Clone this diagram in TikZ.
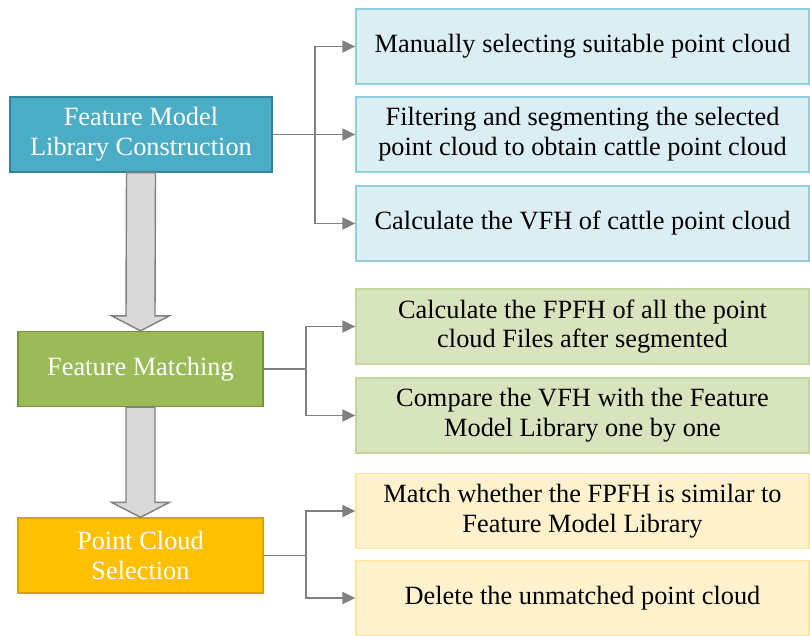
\documentclass[tikz,border=0pt]{standalone}
\usepackage{fontspec}
\setmainfont{Liberation Serif}
\usepackage{tikz}
\usetikzlibrary{arrows.meta, calc}

\definecolor{blueMain}{HTML}{4BACC6}
\definecolor{blueEdge}{HTML}{31849B}
\definecolor{blueSub}{HTML}{DAEEF3}
\definecolor{blueSubEdge}{HTML}{92CDDC}
\definecolor{greenMain}{HTML}{9BBB59}
\definecolor{greenEdge}{HTML}{76923C}
\definecolor{greenSub}{HTML}{D7E4BD}
\definecolor{greenSubEdge}{HTML}{C3D69B}
\definecolor{goldMain}{HTML}{FFC000}
\definecolor{goldEdge}{HTML}{D6A300}
\definecolor{goldSub}{HTML}{FFF2CC}
\definecolor{goldSubEdge}{HTML}{FFE699}
\definecolor{linkGray}{HTML}{808080}
\definecolor{arrowFill}{HTML}{D9D9D9}

\tikzset{
  mainbox/.style={draw, line width=0.8pt, text=white, align=center,
    minimum width=4.9cm, minimum height=1.5cm, inner sep=0pt,
    font=\fontsize{15}{17}\selectfont},
  subbox/.style={draw, line width=0.8pt, align=center,
    minimum width=9.06cm, minimum height=1.5cm, inner sep=0pt,
    font=\fontsize{15}{17}\selectfont},
  link/.style={draw=linkGray, line width=1pt},
  linkarrow/.style={link, -{Triangle[length=2.6mm, width=2.4mm]}},
  bigarrow/.style={draw=linkGray, fill=arrowFill, line width=0.8pt}
}

\newcommand{\blockarrow}[2]{%
  \draw[bigarrow] ([xshift=-2.9mm]#1.south) -- ([xshift=-2.9mm, yshift=3mm]#2.north)
    -- ([xshift=-5.8mm, yshift=3mm]#2.north) -- (#2.north)
    -- ([xshift=5.8mm, yshift=3mm]#2.north) -- ([xshift=2.9mm, yshift=3mm]#2.north)
    -- ([xshift=2.9mm]#1.south) -- cycle;}

\begin{document}
\begin{tikzpicture}[x=0.02cm, y=-0.02cm]
\useasboundingbox (0,0) rectangle (810,635);

% main steps
\node[mainbox, fill=blueMain, draw=blueEdge, minimum width=5.24cm] (lib) at (141,134.5) {Feature Model\\Library Construction};
\node[mainbox, fill=greenMain, draw=greenEdge] (match) at (140.5,369) {Feature Matching};
\node[mainbox, fill=goldMain, draw=goldEdge] (sel) at (140.5,555.5) {Point Cloud\\Selection};

% sub steps
\node[subbox, fill=blueSub, draw=blueSubEdge] (lib1) at (582.5,46.5) {Manually selecting suitable point cloud};
\node[subbox, fill=blueSub, draw=blueSubEdge] (lib2) at (582.5,134.5) {Filtering and segmenting the selected\\point cloud to obtain cattle point cloud};
\node[subbox, fill=blueSub, draw=blueSubEdge] (lib3) at (582.5,223.5) {Calculate the VFH of cattle point cloud};
\node[subbox, fill=greenSub, draw=greenSubEdge] (match1) at (582.5,326.5) {Calculate the FPFH of all the point\\cloud Files after segmented};
\node[subbox, fill=greenSub, draw=greenSubEdge] (match2) at (582.5,415.5) {Compare the VFH with the Feature\\Model Library one by one};
\node[subbox, fill=goldSub, draw=goldSubEdge] (sel1) at (582.5,511) {Match whether the FPFH is similar to\\Feature Model Library};
\node[subbox, fill=goldSub, draw=goldSubEdge] (sel2) at (582.5,598) {Delete the unmatched point cloud};

% branch points
\coordinate (jlib) at (315,134.5);
\coordinate (jmatch) at (306,369);
\coordinate (jsel) at (306,555.5);

\draw[link] (lib.east) -- (jlib);
\draw[linkarrow] (jlib) |- (lib1.west);
\draw[linkarrow] (jlib) -- (lib2.west);
\draw[linkarrow] (jlib) |- (lib3.west);

\draw[link] (match.east) -- (jmatch);
\draw[linkarrow] (jmatch) |- (match1.west);
\draw[linkarrow] (jmatch) |- (match2.west);

\draw[link] (sel.east) -- (jsel);
\draw[linkarrow] (jsel) |- (sel1.west);
\draw[linkarrow] (jsel) |- (sel2.west);

% flow between steps
\blockarrow{lib}{match}
\blockarrow{match}{sel}
\end{tikzpicture}
\end{document}
